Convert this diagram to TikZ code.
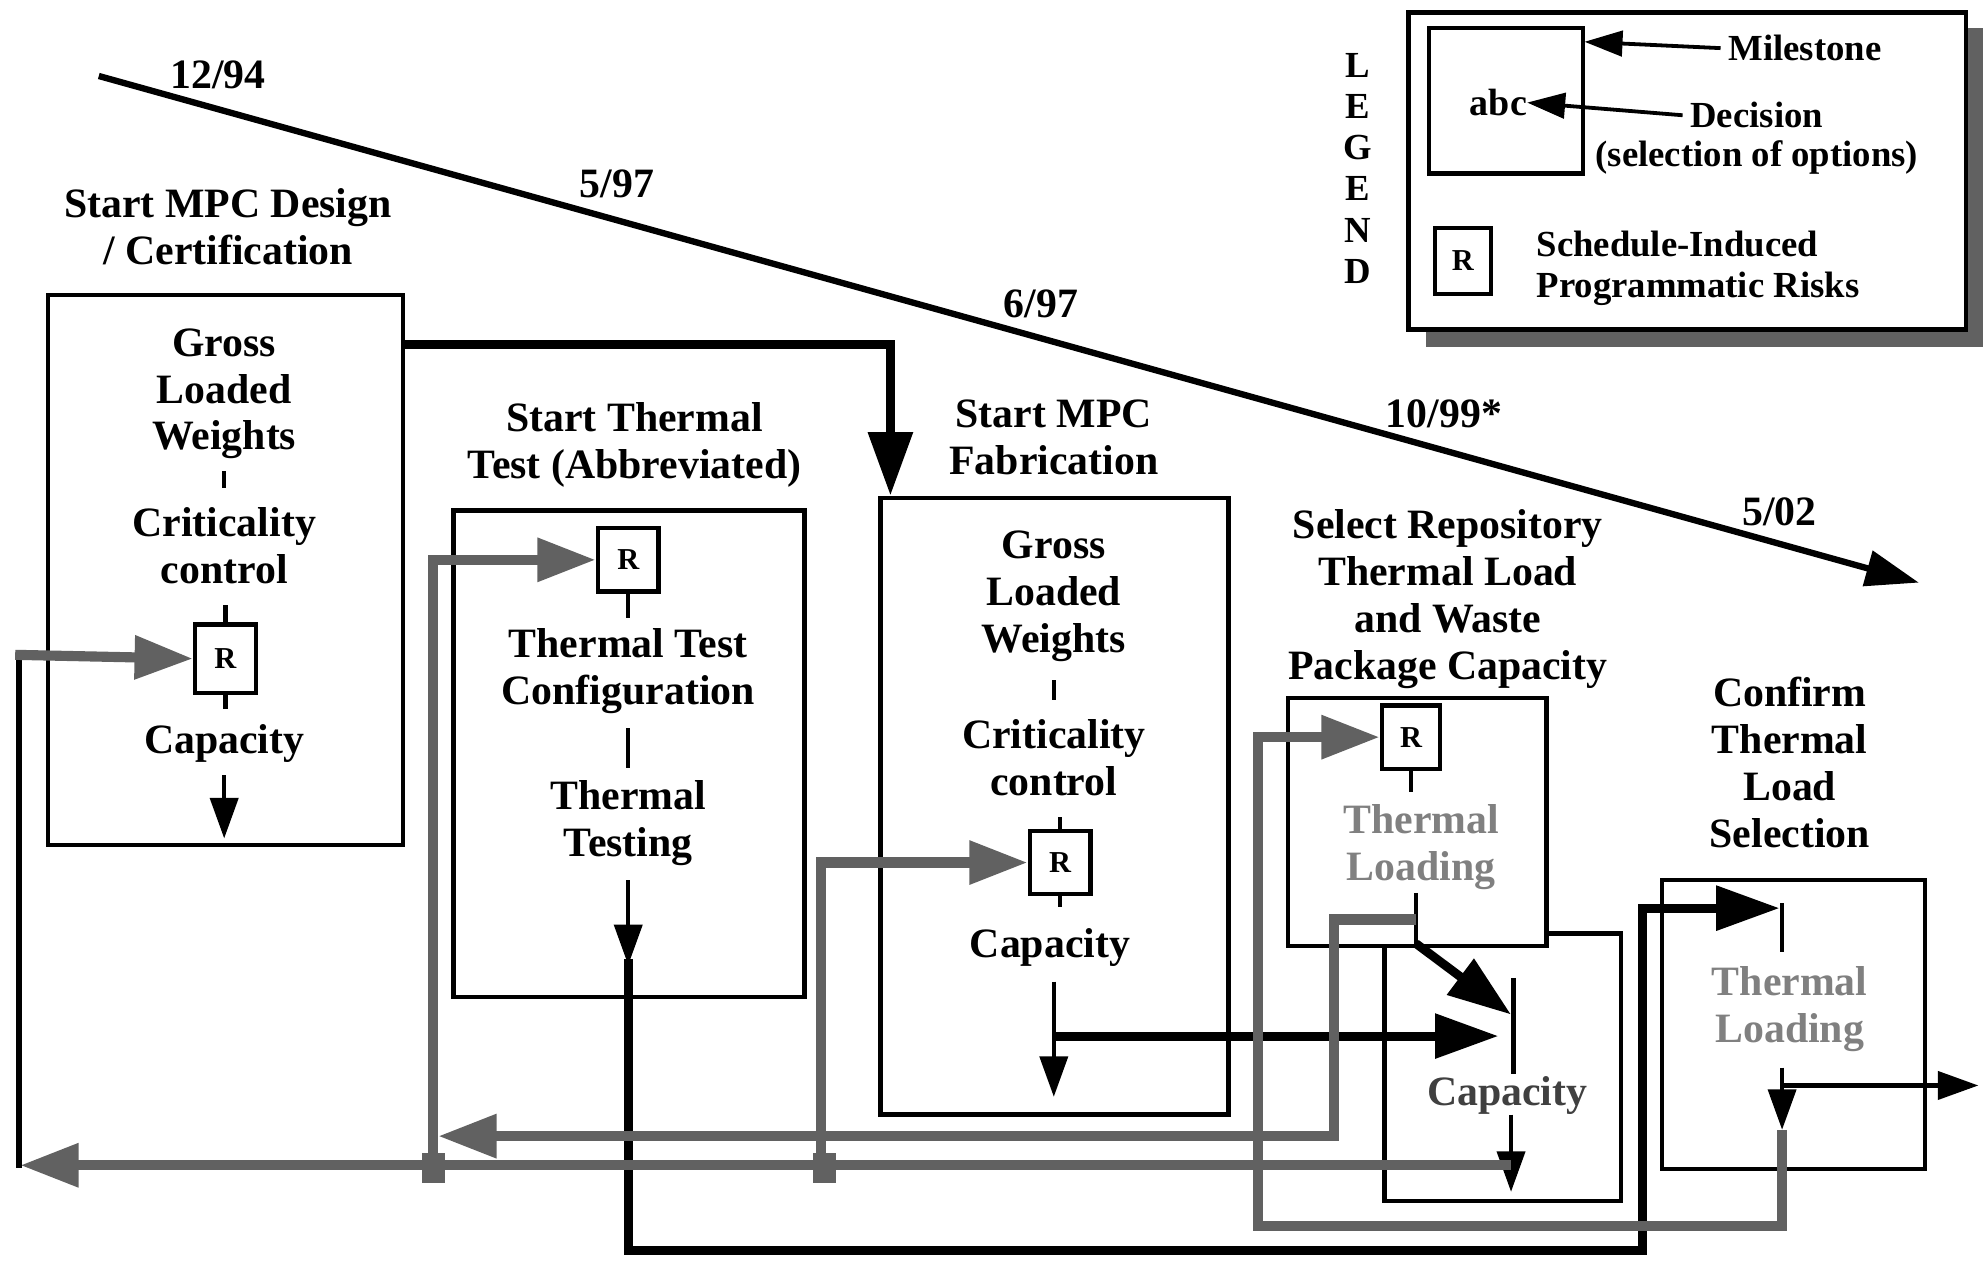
\documentclass[tikz,border=0pt]{standalone}
\usepackage{fontspec}
\setmainfont{Liberation Serif}
\usetikzlibrary{arrows.meta}

\definecolor{dither}{gray}{0.38}
\newcommand{\bigfont}{\bfseries\fontsize{33}{37}\selectfont}
\newcommand{\legfont}{\bfseries\fontsize{29}{32.4}\selectfont}

\begin{document}
\begin{tikzpicture}[x=1pt, y=-1pt,
  every node/.style={font=\bigfont, align=center, inner sep=0pt},
  box/.style={draw, line width=3.5pt, fill=white},
  rbox/.style={draw, line width=3.5pt, fill=white, minimum width=48pt, minimum height=50pt, font=\bfseries\fontsize{24}{26}\selectfont},
  stub/.style={line width=3.5pt},
  flow/.style={line width=3.5pt, -{Triangle[length=32pt, width=22pt]}},
  heavy/.style={line width=7pt, -{Triangle[length=50pt, width=34pt]}},
  feedback/.style={draw=dither, line width=8pt, -{Triangle[length=46pt, width=33pt]}},
  faded/.style={text=black!50}]

\useasboundingbox (0,0) rectangle (1568,995);

% Boxes
\node[box, minimum width=280pt, minimum height=434pt] (design) at (178,450) {};
\node[box, minimum width=277pt, minimum height=384pt] (thermtest) at (496.5,595) {};
\node[box, minimum width=275pt, minimum height=487pt] (fab) at (832.5,636.5) {};
\node[box, minimum width=187pt, minimum height=211pt] (selcap) at (1186.5,842.5) {};
\node[box, minimum width=204pt, minimum height=196pt] (select) at (1119,649) {};
\node[box, minimum width=208pt, minimum height=228pt] (confirm) at (1416,809) {};

% Legend
\fill[dither] (1126,22) rectangle (1566,274);
\node[box, minimum width=440pt, minimum height=250pt] (legend) at (1332,135) {};
\node[draw, line width=3.5pt, minimum width=122pt, minimum height=115pt] (mile) at (1189,79.5) {};
\node[font=\bfseries\fontsize{30}{32}\selectfont] (abc) at (1183,81) {abc};
\node[font=\legfont] (milestone) at (1425,38) {Milestone};
\node[font=\legfont] (decision) at (1387,91) {Decision};
\node[font=\legfont] (options) at (1387,124) {(selection of options)};
\node[rbox, minimum width=44pt, minimum height=52pt] (rkey) at (1155,206) {R};
\node[font=\legfont, align=left, anchor=west] (risks) at (1213,212) {Schedule-Induced\\Programmatic Risks};
\node[font=\legfont] (legendword) at (1072,133) {L\\E\\G\\E\\N\\D};
\draw[line width=3pt, -{Triangle[length=30pt, width=20pt]}] ([xshift=-6pt]milestone.west) -- (1251,33);
\draw[line width=3pt, -{Triangle[length=30pt, width=20pt]}] ([xshift=-6pt]decision.west) -- (abc.east);

% Timeline
\coordinate (tstart) at (78,60);
\coordinate (tend) at (1515,460);
\draw[line width=5pt, -{Triangle[length=42pt, width=28pt]}] (tstart) -- (tend);
\node (d1) at (172,59) {12/94};
\node (d2) at (487,145) {5/97};
\node (d3) at (822,240) {6/97};
\node (d4) at (1140,327) {10/99*};
\node (d5) at (1405,404) {5/02};

% Titles
\node (designtitle) at (180,179) {Start MPC Design\\/ Certification};
\node (testtitle) at (501,351) {Start Thermal\\Test (Abbreviated)};
\node (fabtitle) at (832,345) {Start MPC\\Fabrication};
\node (selecttitle) at (1143,473) {Select Repository\\Thermal Load\\and Waste\\Package Capacity};
\node (confirmtitle) at (1413,602) {Confirm\\Thermal\\Load\\Selection};

% Box contents
\node (gross1) at (177,311) {Gross\\Loaded\\Weights};
\node (crit1) at (177,431) {Criticality\\control};
\node[rbox, minimum height=54pt] (r1) at (178,520) {R};
\node (cap1) at (177,587) {Capacity};

\node[rbox] (r2) at (496,442) {R};
\node (config) at (496,530) {Thermal Test\\Configuration};
\node (testing) at (496,650) {Thermal\\Testing};

\node (gross3) at (832,471) {Gross\\Loaded\\Weights};
\node (crit3) at (832,598) {Criticality\\control};
\node[rbox] (r3) at (837,681) {R};
\node (cap3) at (829,748) {Capacity};

\node[rbox, minimum width=46pt] (r4) at (1114,582) {R};
\node[faded] (load4) at (1122,669) {Thermal\\Loading};
\node[text=black!75] (cap5) at (1190,865) {Capacity};
\node[faded] (load6) at (1413,797) {Thermal\\Loading};

% Steps inside the boxes
\draw[stub] (177,372) -- (177,385);
\draw[stub] (r1.north) -- (178,478);
\draw[stub] (r1.south) -- (178,560);
\draw[flow] (177,612) -- (177,662);

\draw[stub] (r2.south) -- (496,488);
\draw[stub] (496,575) -- (496,606);
\draw[flow] (496,695) -- (496,762);

\draw[stub] (832,537) -- (832,553);
\draw[stub] (r3.north) -- (837,645);
\draw[stub] (r3.south) -- (837,716);
\draw[flow] (832,775) -- (832,866);

\draw[stub] (r4.south) -- (1114,625);
\draw[stub] (1118,705) -- (1118,747);
\draw[stub] (1195,772) -- (1195,848);
\draw[flow] (1193,880) -- (1193,941);

\draw[stub] (1407,713) -- (1407,752);
\draw[flow] (1407,843) -- (1407,892);
\draw[flow] (1407,857) -- (1562,857);

% Links between milestones
\coordinate (c1) at (703,272);
\draw[heavy] (design.east |- c1) -- (c1) -- (c1 |- fab.north);
\draw[heavy] (832,818) -- (1183,818);
\draw[heavy] (1118,745) -- (1193,801);
\draw[heavy] (496,757) |- (1297,987) |- (1405,717);

% Feedback to the risks
\draw[feedback] (1407,892) |- (993,968) |- (r4.west);
\draw[feedback] (1118,726) -| (1053,897) -- (346,897);
\draw[feedback] (1193,920) -- (16,920);
\draw[line width=5pt] (15,922) -- (15,513);
\draw[feedback] (12,517) -- (r1.west);
\draw[feedback] (342,930) |- (r2.west);
\draw[feedback] (648,930) |- (r3.west);
\fill[dither] (333,910) rectangle (351,934);
\fill[dither] (642,910) rectangle (660,934);

\end{tikzpicture}
\end{document}
